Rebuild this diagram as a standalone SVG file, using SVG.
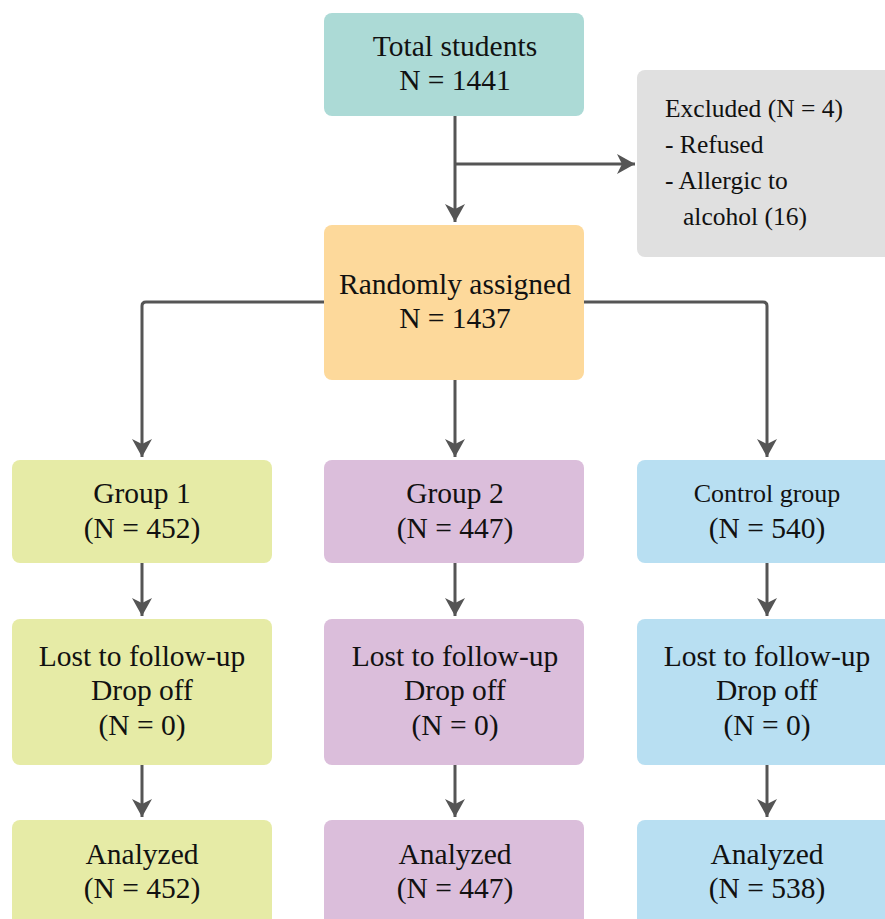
<svg xmlns="http://www.w3.org/2000/svg" width="885" height="919" viewBox="0 0 885 919">
<defs>
<marker id="ah" viewBox="0 0 18 20" refX="18" refY="10" markerWidth="18" markerHeight="20" markerUnits="userSpaceOnUse" orient="auto">
<path d="M0,0 L18,10 L0,20 L5,10 z" fill="#555"/>
</marker>
<style>
text{font-family:'Liberation Serif','Times New Roman','DejaVu Serif',serif;font-size:29.5px;fill:#111;text-anchor:middle}
.l{text-anchor:start;font-size:25.5px}
.s{font-size:26px}
.c{fill:none;stroke:#555;stroke-width:3}
.t{fill:#acdad6}.g{fill:#e0e0e0}.o{fill:#fdd99b}.y{fill:#e6eba6}.p{fill:#dbbedb}.b{fill:#b8dff2}
</style>
</defs>
<rect width="885" height="919" fill="#fff"/>
<g id="connectors">
<path class="c" d="M455,116 V222" marker-end="url(#ah)"/>
<path class="c" d="M455,164 H635" marker-end="url(#ah)"/>
<path class="c" d="M324,302 H146 Q142,302 142,306 V457" marker-end="url(#ah)"/>
<path class="c" d="M455,380 V457" marker-end="url(#ah)"/>
<path class="c" d="M584,302 H763 Q767,302 767,306 V457" marker-end="url(#ah)"/>
<path class="c" d="M142,563 V616" marker-end="url(#ah)"/>
<path class="c" d="M455,563 V616" marker-end="url(#ah)"/>
<path class="c" d="M767,563 V616" marker-end="url(#ah)"/>
<path class="c" d="M142,765 V817" marker-end="url(#ah)"/>
<path class="c" d="M455,765 V817" marker-end="url(#ah)"/>
<path class="c" d="M767,765 V817" marker-end="url(#ah)"/>
</g>
<g id="total"><rect class="t" x="324" y="13" width="260" height="103" rx="8"/><text x="455" y="56">Total students</text><text x="455" y="90">N = 1441</text></g>
<g id="excluded"><rect class="g" x="637" y="70" width="260" height="187" rx="8"/><text class="l" x="665" y="117">Excluded (N = 4)</text><text class="l" x="665" y="153">- Refused</text><text class="l" x="665" y="189">- Allergic to</text><text class="l" x="683" y="225">alcohol (16)</text></g>
<g id="random"><rect class="o" x="324" y="225" width="260" height="155" rx="8"/><text x="455" y="294">Randomly assigned</text><text x="455" y="328">N = 1437</text></g>
<g id="group1"><rect class="y" x="12" y="460" width="260" height="103" rx="8"/><text x="142" y="503">Group 1</text><text x="142" y="538">(N = 452)</text></g>
<g id="group2"><rect class="p" x="324" y="460" width="260" height="103" rx="8"/><text x="455" y="503">Group 2</text><text x="455" y="538">(N = 447)</text></g>
<g id="control"><rect class="b" x="637" y="460" width="260" height="103" rx="8"/><text class="s" x="767" y="502">Control group</text><text x="767" y="538">(N = 540)</text></g>
<g id="lost1"><rect class="y" x="12" y="619" width="260" height="146" rx="8"/><text x="142" y="666">Lost to follow-up</text><text x="142" y="700">Drop off</text><text x="142" y="735">(N = 0)</text></g>
<g id="lost2"><rect class="p" x="324" y="619" width="260" height="146" rx="8"/><text x="455" y="666">Lost to follow-up</text><text x="455" y="700">Drop off</text><text x="455" y="735">(N = 0)</text></g>
<g id="lost3"><rect class="b" x="637" y="619" width="260" height="146" rx="8"/><text x="767" y="666">Lost to follow-up</text><text x="767" y="700">Drop off</text><text x="767" y="735">(N = 0)</text></g>
<g id="an1"><rect class="y" x="12" y="820" width="260" height="110" rx="8"/><text x="142" y="864">Analyzed</text><text x="142" y="898">(N = 452)</text></g>
<g id="an2"><rect class="p" x="324" y="820" width="260" height="110" rx="8"/><text x="455" y="864">Analyzed</text><text x="455" y="898">(N = 447)</text></g>
<g id="an3"><rect class="b" x="637" y="820" width="260" height="110" rx="8"/><text x="767" y="864">Analyzed</text><text x="767" y="898">(N = 538)</text></g>
</svg>
